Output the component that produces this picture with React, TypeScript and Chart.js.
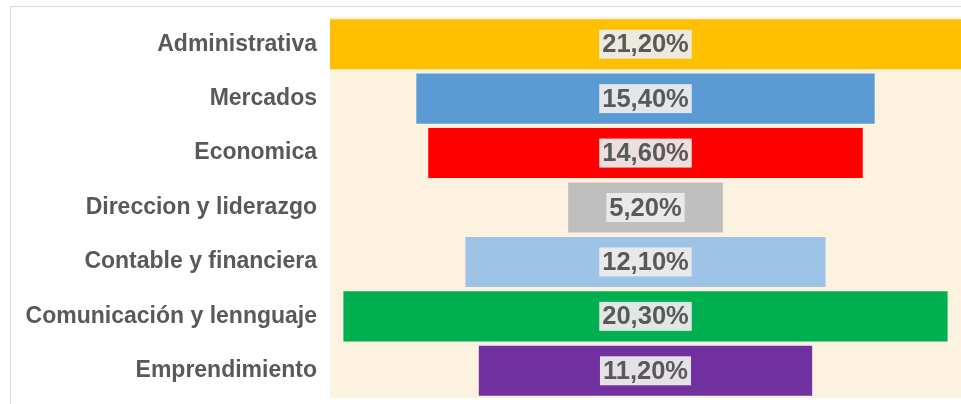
import React, { useEffect, useRef } from "react";
import { Chart, registerables } from "chart.js";

Chart.register(...registerables);

const categories = [
  "Administrativa",
  "Mercados",
  "Economica",
  "Direccion y liderazgo",
  "Contable y financiera",
  "Comunicación y lennguaje",
  "Emprendimiento",
];
const values = [21.2, 15.4, 14.6, 5.2, 12.1, 20.3, 11.2];
const valueLabels = ["21,20%", "15,40%", "14,60%", "5,20%", "12,10%", "20,30%", "11,20%"];
const colors = ["#FFC000", "#5B9BD5", "#FF0000", "#BFBFBF", "#9DC3E6", "#00B050", "#7030A0"];

const bgPlugin = {
  id: "plotBg",
  beforeDraw(chart: any) {
    const { ctx, chartArea } = chart;
    ctx.save();
    ctx.fillStyle = "#FCF2DF";
    ctx.fillRect(chartArea.left, chartArea.top, chartArea.right - chartArea.left, chartArea.bottom - chartArea.top);
    ctx.restore();
  },
};

const labelPlugin = {
  id: "valueLabels",
  afterDatasetsDraw(chart: any) {
    const { ctx } = chart;
    const meta = chart.getDatasetMeta(0);
    ctx.save();
    ctx.font = "bold 25.5px 'Liberation Sans', Arial, sans-serif";
    ctx.textAlign = "center";
    ctx.textBaseline = "middle";
    meta.data.forEach((bar: any, i: number) => {
      const txt = valueLabels[i];
      const cx = (bar.x + bar.base) / 2;
      const cy = bar.y;
      const w = ctx.measureText(txt).width;
      ctx.fillStyle = "rgba(235,235,235,0.95)";
      ctx.fillRect(cx - w / 2 - 3, cy - 14.5, w + 6, 29);
      ctx.fillStyle = "#595959";
      ctx.fillText(txt, cx, cy + 1);
    });
    ctx.restore();
  },
};

export default function App() {
  const ref = useRef<HTMLCanvasElement>(null);
  useEffect(() => {
    document.body.style.margin = "0";
    const half = Math.max(...values) / 2;
    const chart = new Chart(ref.current!, {
      type: "bar",
      data: {
        labels: categories,
        datasets: [
          {
            data: values.map((v) => [-v / 2, v / 2]) as any,
            backgroundColor: colors,
            borderWidth: 0,
            categoryPercentage: 1,
            barPercentage: 0.92,
          },
        ],
      },
      options: {
        indexAxis: "y",
        animation: false,
        responsive: false,
        maintainAspectRatio: false,
        layout: { padding: { top: 17, bottom: 6, left: 0, right: 0 } },
        plugins: { legend: { display: false }, tooltip: { enabled: false } },
        scales: {
          x: { display: false, min: -half, max: half },
          y: {
            grid: { display: false, drawTicks: false },
            border: { display: false },
            ticks: {
              padding: 13,
              color: "#595959",
              font: { family: "'Liberation Sans', Arial, sans-serif", size: 23, weight: "bold" },
            },
            afterFit(scale: any) {
              scale.width = 330;
              scale.paddingTop = 0;
              scale.paddingBottom = 0;
            },
          },
        },
      },
      plugins: [bgPlugin, labelPlugin],
    });
    return () => chart.destroy();
  }, []);
  return (
    <div style={{ position: "relative", width: 961, height: 404, background: "#fff", overflow: "hidden" }}>
      <div
        style={{
          position: "absolute",
          left: 10,
          top: 6,
          width: 1000,
          height: 500,
          borderTop: "1px solid #D9D9D9",
          borderLeft: "1px solid #D9D9D9",
        }}
      />
      <canvas ref={ref} width={961} height={404} style={{ position: "absolute", left: 0, top: 0 }} />
    </div>
  );
}
